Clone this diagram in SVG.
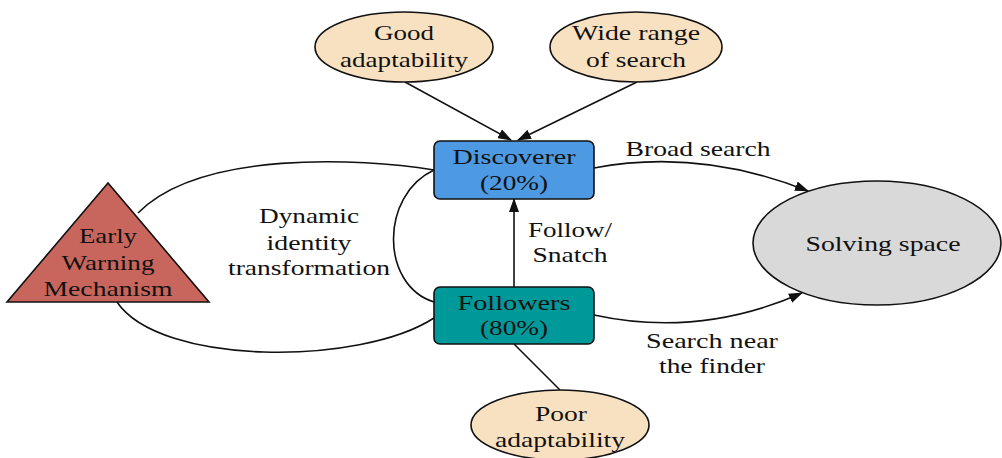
<svg xmlns="http://www.w3.org/2000/svg" width="1002" height="458" viewBox="0 0 1002 458">
<style>
text{font-family:"Liberation Serif","Times New Roman",serif;font-size:21px;fill:#111;text-anchor:middle}
.e{stroke:#111;stroke-width:1.6;fill:none}
.n{stroke:#111;stroke-width:1.6}
.beige{fill:#F8E1C1}
</style>
<defs>
<marker id="ah" markerWidth="14" markerHeight="10" refX="13" refY="5" orient="auto" markerUnits="userSpaceOnUse">
<path d="M0,0 L14,5 L0,10 Z" fill="#111"/>
</marker>
</defs>
<rect width="1002" height="458" fill="#fff"/>
<g id="connectors">
<path class="e" d="M138,213 C200,150 360,158 434,170"/>
<path class="e" d="M117,302 C160,366 360,366 434,318"/>
<path class="e" d="M434,170 C380,195 380,285 434,302"/>
<path class="e" d="M405,82 L511,140" marker-end="url(#ah)"/>
<path class="e" d="M637,82 L518,140" marker-end="url(#ah)"/>
<path class="e" d="M514,287 L514,199" marker-end="url(#ah)"/>
<path class="e" d="M594,168 Q700,148 808,191" marker-end="url(#ah)"/>
<path class="e" d="M594,315 Q700,338 802,293" marker-end="url(#ah)"/>
<path class="e" d="M514,344 L560,390"/>
<text x="698" y="156" textLength="145" lengthAdjust="spacingAndGlyphs">Broad search</text>
<text x="570" y="237" textLength="84" lengthAdjust="spacingAndGlyphs">Follow/</text>
<text x="570" y="262" textLength="75" lengthAdjust="spacingAndGlyphs">Snatch</text>
<text x="712" y="348" textLength="132" lengthAdjust="spacingAndGlyphs">Search near</text>
<text x="712" y="373" textLength="106" lengthAdjust="spacingAndGlyphs">the finder</text>
<text x="309" y="223" textLength="100" lengthAdjust="spacingAndGlyphs">Dynamic</text>
<text x="309" y="250" textLength="85" lengthAdjust="spacingAndGlyphs">identity</text>
<text x="309" y="275" textLength="162" lengthAdjust="spacingAndGlyphs">transformation</text>
</g>
<g id="good">
<ellipse class="n beige" cx="404" cy="47" rx="89" ry="35"/>
<text x="404" y="40" textLength="60" lengthAdjust="spacingAndGlyphs">Good</text>
<text x="404" y="67" textLength="128" lengthAdjust="spacingAndGlyphs">adaptability</text>
</g>
<g id="wide">
<ellipse class="n beige" cx="636" cy="47" rx="86" ry="35"/>
<text x="636" y="40" textLength="128" lengthAdjust="spacingAndGlyphs">Wide range</text>
<text x="636" y="67" textLength="100" lengthAdjust="spacingAndGlyphs">of search</text>
</g>
<g id="discoverer">
<rect class="n" x="434" y="141" width="160" height="58" rx="6" fill="#4D9AE2"/>
<text x="514" y="164" textLength="123" lengthAdjust="spacingAndGlyphs">Discoverer</text>
<text x="514" y="190" textLength="68" lengthAdjust="spacingAndGlyphs">(20%)</text>
</g>
<g id="followers">
<rect class="n" x="434" y="287" width="160" height="57" rx="6" fill="#009999"/>
<text x="514" y="310" textLength="113" lengthAdjust="spacingAndGlyphs">Followers</text>
<text x="514" y="335" textLength="68" lengthAdjust="spacingAndGlyphs">(80%)</text>
</g>
<g id="warning">
<polygon class="n" points="108,183 7,302 209,302" fill="#C8665D"/>
<text x="108" y="243" textLength="58" lengthAdjust="spacingAndGlyphs">Early</text>
<text x="108" y="270" textLength="93" lengthAdjust="spacingAndGlyphs">Warning</text>
<text x="108" y="296" textLength="129" lengthAdjust="spacingAndGlyphs">Mechanism</text>
</g>
<g id="solving">
<ellipse class="n" cx="877" cy="243" rx="124" ry="62" fill="#D9D9D9"/>
<text x="883" y="251" textLength="155" lengthAdjust="spacingAndGlyphs">Solving space</text>
</g>
<g id="poor">
<ellipse class="n beige" cx="560" cy="425" rx="89" ry="35"/>
<text x="561" y="421" textLength="52" lengthAdjust="spacingAndGlyphs">Poor</text>
<text x="560" y="447" textLength="130" lengthAdjust="spacingAndGlyphs">adaptability</text>
</g>
</svg>
